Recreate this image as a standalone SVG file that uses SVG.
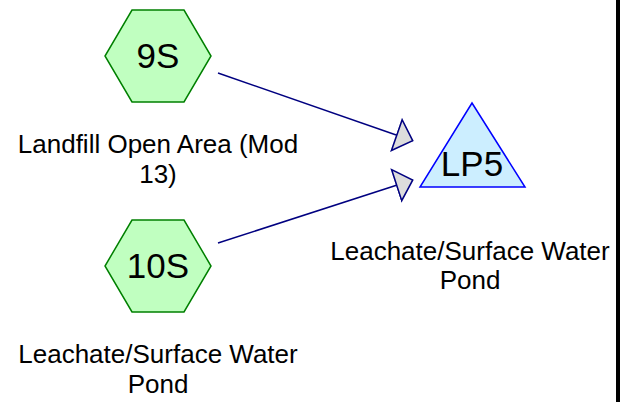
<svg xmlns="http://www.w3.org/2000/svg" width="630" height="402" viewBox="0 0 630 402">
<style>
.hex{fill:#c0ffc0;stroke:#008000;stroke-width:1.5}
.tri{fill:#cceeff;stroke:#0000ff;stroke-width:1.5}
.name{font-family:"Liberation Sans",Arial,sans-serif;font-size:35px;fill:#000;text-anchor:middle}
.lbl{font-family:"Liberation Sans",Arial,sans-serif;font-size:26px;fill:#000;text-anchor:middle}
.edge{stroke:#000080;stroke-width:1.5;fill:none;marker-end:url(#arr)}
</style>
<defs>
<marker id="arr" markerUnits="userSpaceOnUse" markerWidth="20" markerHeight="36" viewBox="-1 -17 19 34" refX="16" refY="0" orient="auto">
<path d="M0,-15.5 L16,0 L0,15.5 Z" fill="#dcdcdc" stroke="#000080" stroke-width="1.5"/>
</marker>
</defs>
<rect width="630" height="402" fill="#fff"/>
<g id="connectors">
<path class="edge" d="M218,73 L412.7,140.7"/>
<path class="edge" d="M218,243 L412.7,180"/>
</g>
<g id="node-9S">
<polygon class="hex" points="132,10 184,10 211,56 184,102 132,102 105,56"/>
<text class="name" x="158" y="68">9S</text>
<text class="lbl" x="158" y="153">Landfill Open Area (Mod</text>
<text class="lbl" x="158" y="183">13)</text>
</g>
<g id="node-10S">
<polygon class="hex" points="132,220 184,220 211,266 184,312 132,312 105,266"/>
<text class="name" x="158" y="278">10S</text>
<text class="lbl" x="158" y="363">Leachate/Surface Water</text>
<text class="lbl" x="158" y="393">Pond</text>
</g>
<g id="node-LP5">
<polygon class="tri" points="472,103 525,187 420,187"/>
<text class="name" x="472" y="175.5">LP5</text>
<text class="lbl" x="470" y="260">Leachate/Surface Water</text>
<text class="lbl" x="470" y="289">Pond</text>
</g>
<rect x="616" y="0" width="4" height="402" fill="#000"/>
</svg>
